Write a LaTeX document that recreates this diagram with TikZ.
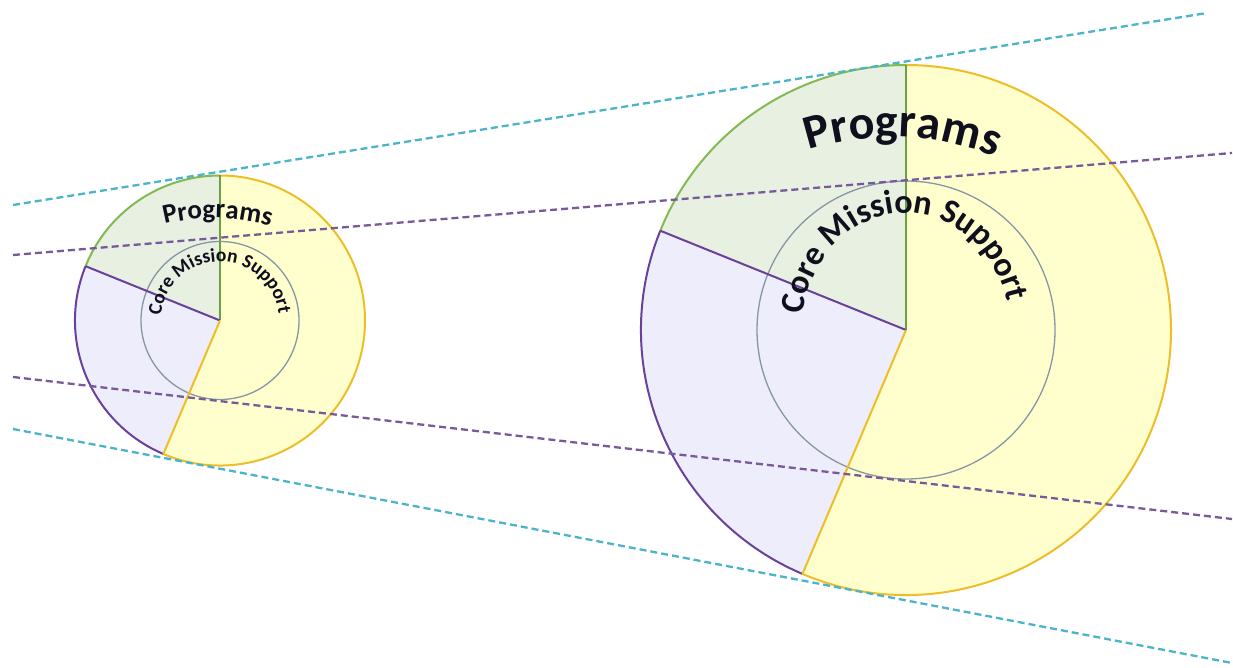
\documentclass[tikz,border=0pt]{standalone}
\usepackage{fontspec}
\setmainfont{Carlito}
\usetikzlibrary{decorations.text}
\definecolor{yfill}{RGB}{255,255,206}
\definecolor{yline}{RGB}{238,190,40}
\definecolor{gfill}{RGB}{232,240,225}
\definecolor{gline}{RGB}{130,185,80}
\definecolor{pfill}{RGB}{238,237,251}
\definecolor{pline}{RGB}{105,65,155}
\definecolor{iline}{RGB}{135,150,165}
\definecolor{cdash}{RGB}{75,180,200}
\definecolor{pdash}{RGB}{120,90,155}
\definecolor{txt}{RGB}{15,15,30}
\begin{document}
\begin{tikzpicture}[x=1pt,y=1pt,
  ringline/.style={line width=2pt},
  innerline/.style={draw=iline,line width=1.3pt},
  guide/.style={line width=2.3pt,dash pattern=on 7pt off 4pt},
  curved/.style={decorate,decoration={text along path,text align=center,text color=txt}}]
\fill[white] (0,0) rectangle (1233,667);
\useasboundingbox (0,0) rectangle (1233,667);
% centres
\coordinate (cs) at (220,346.5);
\coordinate (cb) at (906,337);
% --- small ring ---
\fill[gfill] (cs) -- ++(90:145) arc[start angle=90,end angle=158,radius=145] -- cycle;
\fill[pfill] (cs) -- ++(158:145) arc[start angle=158,end angle=247,radius=145] -- cycle;
\fill[yfill] (cs) -- ++(247:145) arc[start angle=247,end angle=450,radius=145] -- cycle;
\draw[innerline] (cs) circle[radius=79];
\draw[ringline,draw=gline] (cs) ++(90:145) arc[start angle=90,end angle=158,radius=145];
\draw[ringline,draw=pline] (cs) ++(158:145) arc[start angle=158,end angle=247,radius=145];
\draw[ringline,draw=yline] (cs) ++(247:145) arc[start angle=247,end angle=450,radius=145];
\draw[ringline,draw=gline!85!black] (cs) -- ++(90:145);
\draw[ringline,draw=pline] (cs) -- ++(158:145);
\draw[ringline,draw=yline] (cs) -- ++(247:145);
% --- big ring ---
\fill[gfill] (cb) -- ++(90:265) arc[start angle=90,end angle=158,radius=265] -- cycle;
\fill[pfill] (cb) -- ++(158:265) arc[start angle=158,end angle=247,radius=265] -- cycle;
\fill[yfill] (cb) -- ++(247:265) arc[start angle=247,end angle=450,radius=265] -- cycle;
\draw[innerline] (cb) circle[radius=149];
\draw[ringline,draw=gline] (cb) ++(90:265) arc[start angle=90,end angle=158,radius=265];
\draw[ringline,draw=pline] (cb) ++(158:265) arc[start angle=158,end angle=247,radius=265];
\draw[ringline,draw=yline] (cb) ++(247:265) arc[start angle=247,end angle=450,radius=265];
\draw[ringline,draw=gline!85!black] (cb) -- ++(90:265);
\draw[ringline,draw=pline] (cb) -- ++(158:265);
\draw[ringline,draw=yline] (cb) -- ++(247:265);
% --- curved labels ---
\path[curved,decoration={text={|\fontsize{27}{27}\selectfont\bfseries|Programs}}]
  (214,246) ++(119:203) arc[start angle=119,end angle=59,radius=203];
\path[curved,decoration={text={|\fontsize{19.5}{19.5}\selectfont\bfseries|Core Mission Support}}]
  (cs) ++(176:59) arc[start angle=176,end angle=6,radius=59];
\path[curved,decoration={text={|\fontsize{48}{48}\selectfont\bfseries|Programs}}]
  (893,257) ++(118:273) arc[start angle=118,end angle=58,radius=273];
\path[curved,decoration={text={|\fontsize{34}{34}\selectfont\bfseries|Core Mission Support}}]
  (cb) ++(174:104 and 117) arc[start angle=174,end angle=12,x radius=104,y radius=117];
% --- dashed guide lines ---
\coordinate (ct1) at (13,462);   \coordinate (ct2) at (1207,654);
\coordinate (pt1) at (13,412);   \coordinate (pt2) at (1232,514);
\coordinate (pb1) at (13,290);   \coordinate (pb2) at (1232,148);
\coordinate (cb1) at (13,238);   \coordinate (cb2) at (1232,4);
\draw[guide,draw=cdash] (ct1) -- (ct2);
\draw[guide,draw=pdash] (pt1) -- (pt2);
\draw[guide,draw=pdash] (pb1) -- (pb2);
\draw[guide,draw=cdash] (cb1) -- (cb2);
\end{tikzpicture}
\end{document}
